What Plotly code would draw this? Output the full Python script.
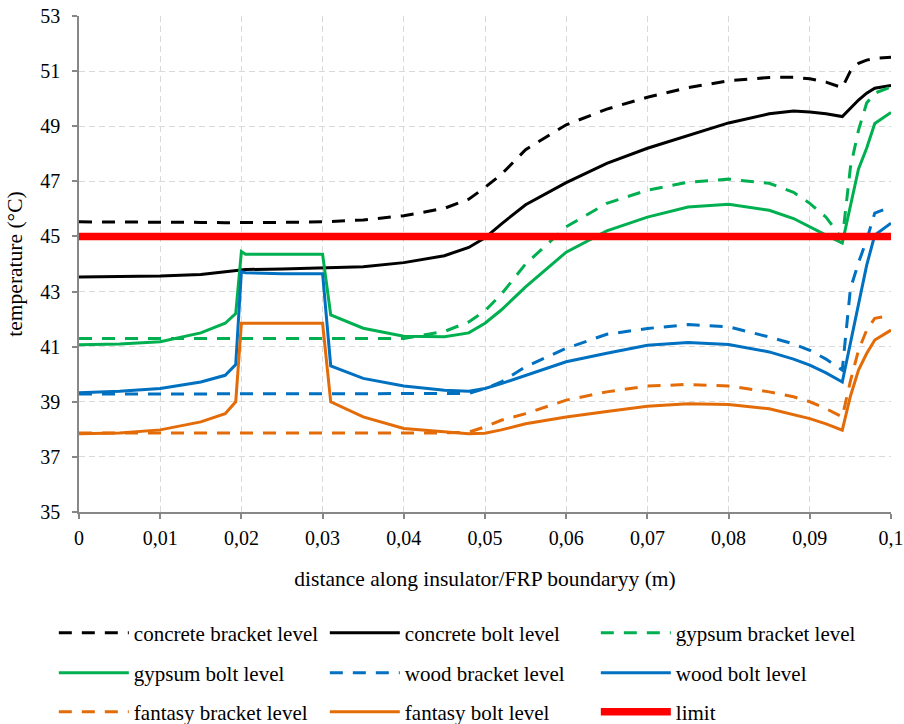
import plotly.graph_objects as go

# distance along insulator/FRP boundary (m)
x = [0, 0.005, 0.01, 0.015, 0.018, 0.0193, 0.0200, 0.0205, 0.025, 0.0300, 0.0310,
     0.035, 0.04, 0.045, 0.048, 0.05, 0.052, 0.055, 0.06, 0.065, 0.07, 0.075, 0.08,
     0.085, 0.088, 0.09, 0.092, 0.094, 0.095, 0.096, 0.097, 0.098, 0.1]

concrete_bracket = [45.53, 45.53, 45.52, 45.51, 45.50, 45.50, 45.50, 45.50, 45.51, 45.53, 45.54,
                    45.60, 45.75, 46.02, 46.35, 46.78, 47.25, 48.15, 49.05, 49.62, 50.05, 50.40, 50.65,
                    50.77, 50.78, 50.72, 50.60, 50.40, 51.00, 51.28, 51.40, 51.46, 51.50]
concrete_bolt = [43.53, 43.54, 43.56, 43.62, 43.72, 43.78, 43.80, 43.80, 43.82, 43.85, 43.86,
                 43.90, 44.05, 44.30, 44.60, 44.95, 45.45, 46.15, 46.95, 47.65, 48.20, 48.65, 49.12,
                 49.45, 49.55, 49.52, 49.45, 49.35, 49.65, 49.95, 50.20, 50.38, 50.48]
gypsum_bracket = [41.30, 41.30, 41.30, 41.30, 41.30, 41.30, 41.30, 41.30, 41.30, 41.30, 41.30,
                  41.30, 41.30, 41.55, 41.90, 42.30, 42.90, 44.00, 45.35, 46.20, 46.68, 46.97, 47.08,
                  46.93, 46.60, 46.20, 45.70, 44.90, 47.50, 48.86, 49.84, 50.20, 50.42]
gypsum_bolt = [41.07, 41.10, 41.18, 41.50, 41.85, 42.20, 44.45, 44.35, 44.35, 44.35, 42.15,
               41.67, 41.38, 41.36, 41.50, 41.85, 42.33, 43.17, 44.43, 45.20, 45.70, 46.07, 46.17,
               45.95, 45.65, 45.34, 45.05, 44.76, 46.10, 47.45, 48.20, 49.10, 49.50]
wood_bracket = [39.28, 39.28, 39.28, 39.28, 39.28, 39.28, 39.28, 39.28, 39.28, 39.28, 39.28,
                39.28, 39.28, 39.28, 39.30, 39.48, 39.72, 40.27, 40.94, 41.45, 41.66, 41.80, 41.72,
                41.35, 41.10, 40.87, 40.55, 40.15, 43.10, 44.05, 44.87, 45.85, 46.07]
wood_bolt = [39.33, 39.38, 39.48, 39.72, 39.96, 40.35, 43.72, 43.68, 43.65, 43.65, 40.30,
             39.85, 39.57, 39.42, 39.38, 39.48, 39.66, 39.96, 40.45, 40.76, 41.05, 41.15, 41.08,
             40.81, 40.55, 40.33, 40.05, 39.72, 41.15, 42.60, 43.95, 45.05, 45.48]
fantasy_bracket = [37.87, 37.87, 37.87, 37.87, 37.87, 37.87, 37.87, 37.87, 37.87, 37.87, 37.87,
                   37.87, 37.87, 37.87, 37.90, 38.09, 38.33, 38.57, 39.06, 39.36, 39.57, 39.63, 39.57,
                   39.36, 39.18, 39.00, 38.75, 38.45, 39.75, 40.87, 41.60, 42.03, 42.14]
fantasy_bolt = [37.84, 37.87, 37.98, 38.27, 38.57, 39.00, 41.85, 41.85, 41.87, 41.85, 39.00,
                38.45, 38.03, 37.90, 37.84, 37.86, 37.98, 38.20, 38.45, 38.65, 38.84, 38.93, 38.90,
                38.75, 38.55, 38.39, 38.20, 37.97, 39.20, 40.15, 40.75, 41.24, 41.60]

limit_x = [0, 0.1]
limit_y = [45, 45]

x_tickvals = [0, 0.01, 0.02, 0.03, 0.04, 0.05, 0.06, 0.07, 0.08, 0.09, 0.1]
x_ticktext = ["0", "0,01", "0,02", "0,03", "0,04", "0,05", "0,06", "0,07", "0,08", "0,09", "0,1"]
y_tickvals = [35, 37, 39, 41, 43, 45, 47, 49, 51, 53]

BLACK = "#000000"
GREEN = "#00B050"
BLUE = "#0070C0"
ORANGE = "#E36C09"
RED = "#FF0000"
DASH = "13px,10px"
FONT = "Liberation Serif, Times New Roman, serif"

series = [
    ("concrete bracket level", x, concrete_bracket, BLACK, DASH, 3, "legend"),
    ("concrete bolt level", x, concrete_bolt, BLACK, "solid", 3, "legend"),
    ("gypsum bracket level", x, gypsum_bracket, GREEN, DASH, 3, "legend"),
    ("gypsum bolt level", x, gypsum_bolt, GREEN, "solid", 3, "legend2"),
    ("wood bracket level", x, wood_bracket, BLUE, DASH, 3, "legend2"),
    ("wood bolt level", x, wood_bolt, BLUE, "solid", 3, "legend2"),
    ("fantasy bracket level", x, fantasy_bracket, ORANGE, DASH, 3, "legend3"),
    ("fantasy bolt level", x, fantasy_bolt, ORANGE, "solid", 3, "legend3"),
    ("limit", limit_x, limit_y, RED, "solid", 7.5, "legend3"),
]

fig = go.Figure()
for name, xs, ys, color, dash, w, lg in series:
    fig.add_trace(go.Scatter(x=xs, y=ys, mode="lines", name=name, legend=lg,
                             line=dict(color=color, dash=dash, width=w)))

axis_common = dict(
    showline=True, linecolor="#878787", linewidth=1.5,
    ticks="outside", ticklen=5, tickcolor="#878787", tickwidth=1.5,
    showgrid=True, gridcolor="#D9D9D9", gridwidth=1, griddash="6px,4px",
    zeroline=False, automargin=False, ticklabeloverflow="allow",
    tickfont=dict(family=FONT, size=20, color="black"),
)

legend_common = dict(
    orientation="h", xanchor="left", yanchor="middle", x=-0.031,
    itemwidth=70, entrywidth=186, entrywidthmode="pixels",
    font=dict(family=FONT, size=21, color="black"), bgcolor="rgba(0,0,0,0)",
    borderwidth=0, traceorder="normal",
)

fig.update_layout(
    width=904, height=724,
    margin=dict(l=79, r=13, t=16, b=212, autoexpand=False),
    paper_bgcolor="white", plot_bgcolor="white",
    font=dict(family=FONT, size=20, color="black"),
    xaxis=dict(range=[0, 0.1], tickvals=x_tickvals, ticktext=x_ticktext,
               ticklabelstandoff=2,
               title=dict(text="distance along insulator/FRP boundaryy (m)",
                          font=dict(family=FONT, size=21.5), standoff=23),
               **axis_common),
    yaxis=dict(range=[35, 53], tickvals=y_tickvals, ticklabelstandoff=8,
               title=dict(text="temperature (°C)", font=dict(family=FONT, size=21.5), standoff=12),
               **axis_common),
    legend=dict(y=-0.244, **legend_common),
    legend2=dict(y=-0.3246, **legend_common),
    legend3=dict(y=-0.4032, **legend_common),
)

# remove the page's default 8 px body margin so the figure sits at the window's corner
fig.write_html("out.html", config={"displayModeBar": False},
               post_script="document.body.style.margin='0px';")
